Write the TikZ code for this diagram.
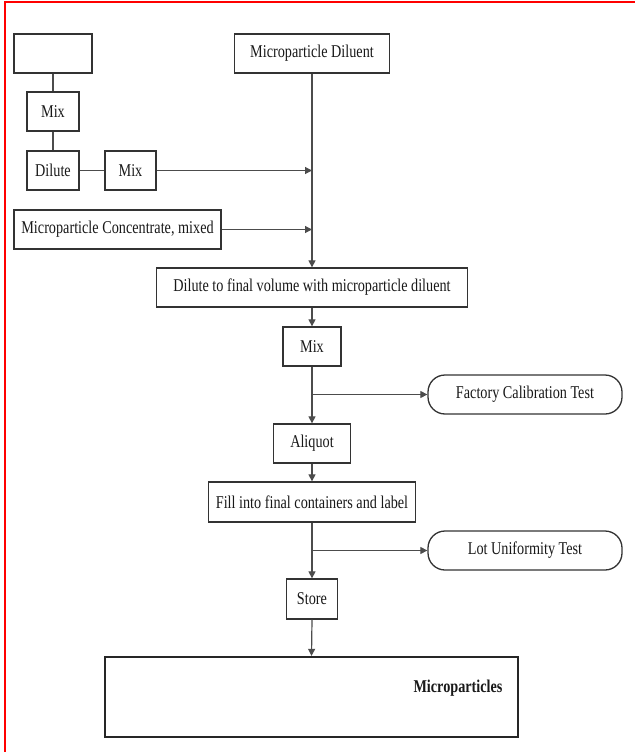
\documentclass[tikz,border=0pt]{standalone}
\usepackage{fontspec}
\setmainfont{Liberation Serif}[FakeStretch=0.79]
\usetikzlibrary{arrows.meta,calc}
\begin{document}
\begin{tikzpicture}[x=1pt,y=-1pt,
  box/.style={draw=black!80,line width=1.3pt,fill=white,inner sep=0pt,
    font=\fontsize{18}{20}\selectfont,text=black!90},
  pill/.style={box,rounded corners=17pt},
  conn/.style={draw=black!70,line width=1.2pt},
  arr/.style={conn,-{Triangle[length=7pt,width=7pt]}}]
\useasboundingbox (0,0) rectangle (635,752);
\fill[white] (0,0) rectangle (635,752);
\draw[red,line width=2.5pt] (5,752) -- (5,2) -- (635,2);
% nodes
\node[box,minimum width=78pt,minimum height=39pt] (blank) at (53,53.5) {};
\node[box,minimum width=52pt,minimum height=39pt] (mixa) at (53,111.5) {Mix};
\node[box,minimum width=52pt,minimum height=39pt] (dilute) at (53,170.5) {Dilute};
\node[box,minimum width=51pt,minimum height=39pt] (mixb) at (130.5,170.5) {Mix};
\node[box,minimum width=207pt,minimum height=39pt] (conc) at (117.5,229.5) {Microparticle Concentrate, mixed};
\node[box,minimum width=155pt,minimum height=39pt] (diluent) at (312,53.5) {Microparticle Diluent};
\node[box,minimum width=311pt,minimum height=39pt] (final) at (312,287.5) {Dilute to final volume with microparticle diluent};
\node[box,minimum width=58pt,minimum height=39pt] (mixc) at (312,346.5) {Mix};
\node[pill,minimum width=194pt,minimum height=39pt] (factory) at (525,394.5) {Factory Calibration Test};
\node[box,minimum width=77pt,minimum height=39pt] (aliquot) at (312,443.5) {Aliquot};
\node[box,minimum width=207pt,minimum height=40pt] (fill) at (312,502) {Fill into final containers and label};
\node[pill,minimum width=194pt,minimum height=39pt] (lot) at (525,550.5) {Lot Uniformity Test};
\node[box,minimum width=51pt,minimum height=40pt] (store) at (312,599) {Store};
\node[box,line width=2.2pt,draw=black!85,minimum width=413pt,minimum height=80pt] (micro) at (311.5,697) {};
\node[font=\fontsize{18}{20}\selectfont\bfseries,text=black!90] (microtxt) at (458,688) {Microparticles};
% coordinates on the main line
\coordinate (ja) at (312,394.5);
\coordinate (jb) at (312,550.5);
% connectors
\draw[conn] (blank.south) -- (mixa.north);
\draw[conn] (mixa.south) -- (dilute.north);
\draw[conn] (dilute.east) -- (mixb.west);
\draw[arr] (diluent.south) -- (final.north);
\draw[arr] (mixb.east) -- (mixb.east -| diluent.south);
\draw[arr] (conc.east) -- (conc.east -| diluent.south);
\draw[arr] (final.south) -- (mixc.north);
\draw[arr] (mixc.south) -- (aliquot.north);
\draw[arr] (ja) -- (factory.west);
\draw[arr] (aliquot.south) -- (fill.north);
\draw[arr] (fill.south) -- (store.north);
\draw[arr] (jb) -- (lot.west);
\draw[arr] (store.south) -- (micro.north);
\end{tikzpicture}
\end{document}
